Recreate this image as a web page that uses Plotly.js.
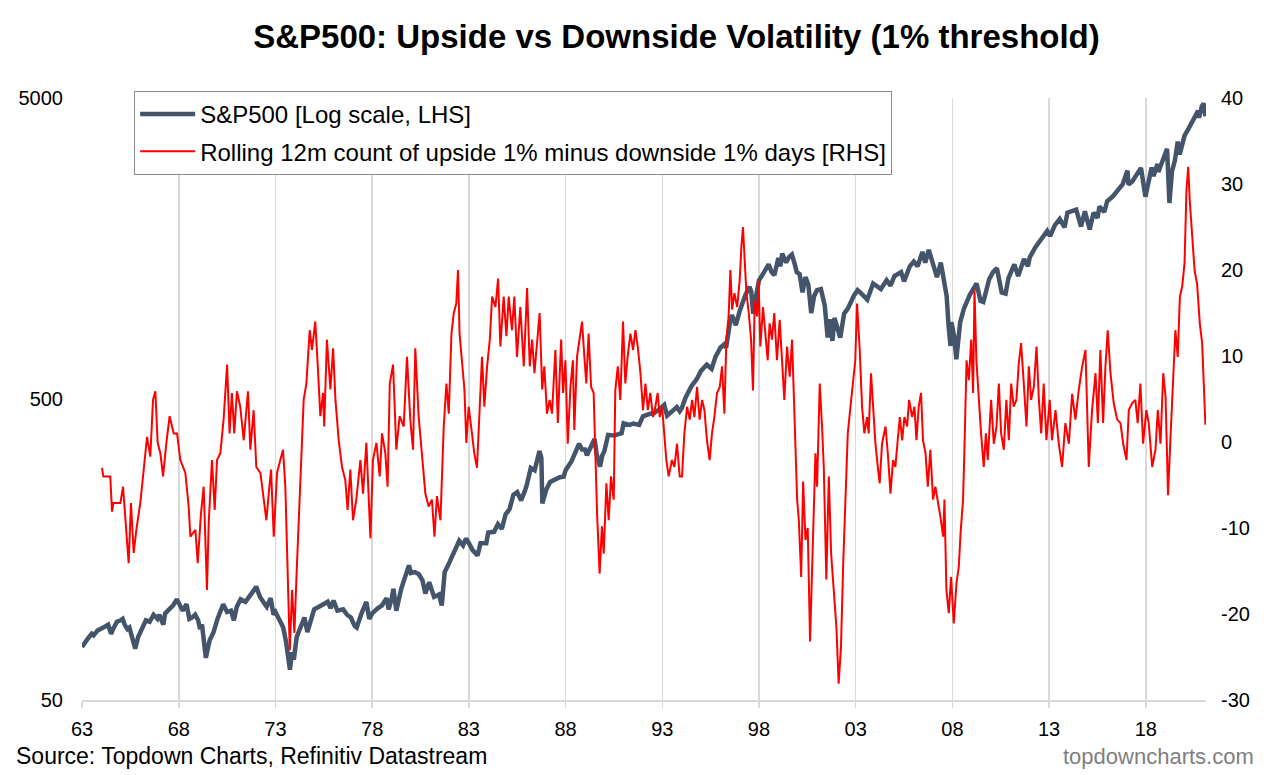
<!DOCTYPE html>
<html>
<head>
<meta charset="utf-8">
<script src="https://cdn.plot.ly/plotly-3.0.1.min.js"></script>
<style>
  html, body { margin: 0; padding: 0; background: #ffffff; }
  #chart { width: 1280px; height: 775px; }
</style>
</head>
<body>
<div id="chart"></div>
<script>
// ---------------- DATA ----------------
// Time is given as decimal years; tick labels mark year-end (31 Dec).
const chartTitle = "S&P500: Upside vs Downside Volatility (1% threshold)";
const seriesNames = ["S&P500 [Log scale, LHS]", "Rolling 12m count of upside 1% minus downside 1% days [RHS]"];
const xTickLabels = ["63", "68", "73", "78", "83", "88", "93", "98", "03", "08", "13", "18"];
const leftTickValues = [50, 500, 5000];
const rightTickValues = [-30, -20, -10, 0, 10, 20, 30, 40];
const sourceText = "Source: Topdown Charts, Refinitiv Datastream";
const brandText = "topdowncharts.com";

// S&P500 index level (left axis, log scale)
const spxYear = [
  1964.0, 1964.1, 1964.3, 1964.5, 1964.6, 1964.8, 1965.0, 1965.1, 1965.35, 1965.45, 1965.5, 1965.6, 1965.8,
  1966.0, 1966.1, 1966.2, 1966.35, 1966.45, 1966.6, 1966.75, 1966.9, 1967.1, 1967.3, 1967.5, 1967.7, 1967.9,
  1968.0, 1968.2, 1968.3, 1968.5, 1968.7, 1968.9, 1969.1, 1969.2, 1969.4, 1969.55, 1969.7, 1969.85,
  1970.0, 1970.1, 1970.2, 1970.4, 1970.5, 1970.6, 1970.8, 1971.0, 1971.3, 1971.5, 1971.7, 1971.85,
  1972.0, 1972.2, 1972.45, 1972.7, 1972.85, 1973.0, 1973.2, 1973.45, 1973.55, 1973.75, 1973.9,
  1974.0, 1974.2, 1974.4, 1974.55, 1974.75, 1974.85, 1974.95, 1975.1, 1975.5, 1975.65, 1975.8,
  1976.0, 1976.25, 1976.5, 1976.7, 1976.85, 1977.0, 1977.2, 1977.5, 1977.7, 1977.9,
  1978.1, 1978.2, 1978.45, 1978.7, 1978.85, 1979.0, 1979.3, 1979.5, 1979.75, 1979.85,
  1980.0, 1980.1, 1980.25, 1980.5, 1980.7, 1980.9, 1981.0, 1981.2, 1981.4, 1981.6, 1981.75, 1981.95,
  1982.2, 1982.45, 1982.6, 1982.75, 1982.9, 1983.1, 1983.3, 1983.5, 1983.7, 1983.85,
  1984.0, 1984.2, 1984.45, 1984.6, 1984.9, 1985.0, 1985.3, 1985.5, 1985.7, 1985.9,
  1986.1, 1986.3, 1986.5, 1986.6, 1986.7, 1986.9, 1987.0, 1987.2, 1987.4, 1987.65, 1987.75, 1987.8, 1987.9,
  1988.0, 1988.2, 1988.5, 1988.7, 1988.9, 1989.0, 1989.3, 1989.5, 1989.7, 1989.85,
  1990.0, 1990.1, 1990.3, 1990.5, 1990.6, 1990.78, 1990.9, 1991.0, 1991.2, 1991.5, 1991.9,
  1992.0, 1992.3, 1992.5, 1992.8, 1993.0, 1993.3, 1993.6, 1993.9, 1994.1, 1994.25, 1994.5, 1994.75, 1994.9,
  1995.0, 1995.2, 1995.5, 1995.8, 1996.0, 1996.3, 1996.55, 1996.75, 1997.0, 1997.2, 1997.3, 1997.5, 1997.6, 1997.8,
  1998.0, 1998.3, 1998.5, 1998.6, 1998.7, 1998.85, 1999.0, 1999.2, 1999.5, 1999.65, 1999.8,
  2000.0, 2000.1, 2000.2, 2000.4, 2000.55, 2000.7, 2000.85, 2000.95, 2001.1, 2001.25, 2001.4, 2001.55, 2001.7, 2001.85,
  2002.0, 2002.2, 2002.4, 2002.55, 2002.65, 2002.8, 2002.9, 2003.0, 2003.2, 2003.4, 2003.6, 2003.9,
  2004.1, 2004.3, 2004.6, 2004.9, 2005.1, 2005.3, 2005.6, 2005.8, 2006.0, 2006.35, 2006.5, 2006.8,
  2007.0, 2007.15, 2007.2, 2007.45, 2007.6, 2007.78, 2007.9, 2008.0, 2008.2, 2008.4, 2008.55, 2008.7, 2008.8, 2008.9, 2008.95,
  2009.1, 2009.2, 2009.4, 2009.6, 2009.9, 2010.25, 2010.45, 2010.6, 2010.9, 2011.1, 2011.3, 2011.55, 2011.75, 2011.9,
  2012.2, 2012.4, 2012.7, 2012.9, 2013.0, 2013.3, 2013.6, 2013.9, 2014.05, 2014.3, 2014.55, 2014.8, 2014.95,
  2015.2, 2015.4, 2015.65, 2015.85, 2016.1, 2016.3, 2016.5, 2016.6, 2016.85, 2017.0, 2017.3, 2017.5, 2017.8,
  2018.05, 2018.1, 2018.3, 2018.6, 2018.75, 2018.98, 2019.3, 2019.4, 2019.6, 2019.65, 2019.9,
  2020.1, 2020.22, 2020.35, 2020.5, 2020.65, 2020.75, 2020.9, 2021.0, 2021.2, 2021.4, 2021.6, 2021.7, 2021.75, 2021.9,
  2022.0, 2022.05, 2022.08
];
const spxValue = [
  75, 77, 80, 83, 82, 85, 86, 87, 89, 84, 83, 86, 91,
  92, 93, 89, 86, 87, 80, 74, 81, 86, 92, 91, 96, 93,
  96, 89, 97, 100, 103, 108, 101, 99, 104, 93, 94, 96,
  92, 86, 89, 69, 74, 79, 84, 93, 104, 98, 99, 92,
  102, 108, 106, 111, 115, 119, 110, 104, 102, 109, 96,
  98, 92, 87, 78, 63, 72, 68, 81, 94, 84, 90,
  100, 102, 104, 106, 101, 107, 99, 100, 96, 94,
  88, 87, 97, 106, 93, 97, 101, 103, 109, 100,
  108, 117, 99, 117, 128, 140, 132, 133, 131, 125, 113, 123,
  110, 112, 103, 133, 139, 148, 160, 169, 163, 172,
  166, 157, 151, 166, 166, 180, 181, 192, 185, 207,
  215, 240, 245, 236, 230, 248, 260, 295, 290, 336, 318, 225, 240,
  250, 265, 271, 275, 276, 290, 310, 335, 355, 340,
  340, 325, 345, 368, 330, 298, 325, 335, 380, 378, 385,
  415, 410, 414, 410, 438, 445, 450, 465, 478, 440, 455, 470, 455,
  465, 505, 550, 585, 620, 650, 630, 690, 740, 760, 740, 900, 950, 880,
  980, 1110, 1180, 1140, 960, 1100, 1240, 1300, 1400, 1320, 1290,
  1470, 1380, 1520, 1420, 1480, 1510, 1400, 1320, 1300, 1130, 1270, 1200, 965, 1100,
  1150, 1160, 1020, 800, 920, 780, 930, 880, 800, 960, 1000, 1100,
  1150, 1120, 1070, 1210, 1190, 1160, 1240, 1190, 1280, 1320, 1230, 1380,
  1430, 1390, 1380, 1540, 1420, 1565, 1470, 1410, 1270, 1420, 1240, 1100, 880, 750, 900,
  800, 677, 900, 1000, 1110, 1210, 1060, 1050, 1250, 1320, 1360, 1130, 1120, 1260,
  1400, 1280, 1460, 1380, 1480, 1600, 1700, 1810, 1740, 1890, 1980, 1860, 2080,
  2100, 2130, 1870, 2100, 1830, 2080, 2000, 2180, 2090, 2270, 2360, 2440, 2580,
  2870, 2580, 2640, 2840, 2930, 2350, 2940, 2750, 3020, 2840, 3140,
  3390, 2240, 2850, 3100, 3580, 3250, 3630, 3750, 3950, 4200, 4450, 4530, 4300, 4700,
  4790, 4500, 4350
];

// Rolling 12m count of upside 1% minus downside 1% days (right axis)
const volYear = [
  1965.03, 1965.1, 1965.46, 1965.55, 1965.62, 1965.98, 1966.12, 1966.24, 1966.41, 1966.53, 1966.67, 1966.81,
  1967.01, 1967.19, 1967.36, 1967.53, 1967.67, 1967.79, 1967.91, 1968.05, 1968.19, 1968.36, 1968.53, 1968.74, 1968.91,
  1969.08, 1969.34, 1969.51, 1969.6, 1969.86, 1969.98, 1970.15, 1970.29, 1970.46, 1970.55, 1970.72, 1970.86, 1970.98,
  1971.15, 1971.32, 1971.5, 1971.63, 1971.75, 1971.87, 1972.01, 1972.18, 1972.36, 1972.58, 1972.7, 1972.87,
  1973.01, 1973.22, 1973.39, 1973.53, 1973.65, 1973.77, 1973.91, 1974.08, 1974.25, 1974.39, 1974.51, 1974.63,
  1974.74, 1974.86, 1974.98, 1975.08, 1975.2, 1975.32, 1975.46, 1975.6, 1975.77, 1975.89, 1976.06, 1976.19,
  1976.32, 1976.46, 1976.52, 1976.66, 1976.84, 1976.98, 1977.1, 1977.27, 1977.44, 1977.61, 1977.73, 1977.87,
  1978.01, 1978.18, 1978.39, 1978.53, 1978.7, 1978.91, 1979.04, 1979.22, 1979.39, 1979.51, 1979.68, 1979.8, 1979.91,
  1980.08, 1980.25, 1980.42, 1980.63, 1980.8, 1980.97, 1981.11, 1981.23, 1981.4, 1981.58, 1981.75, 1981.92,
  1982.09, 1982.22, 1982.35, 1982.53, 1982.7, 1982.84, 1982.96, 1983.1, 1983.22, 1983.35, 1983.44, 1983.52,
  1983.65, 1983.77, 1983.87, 1983.99, 1984.16, 1984.28, 1984.42, 1984.56, 1984.68, 1984.8, 1984.94,
  1985.08, 1985.2, 1985.37, 1985.51, 1985.63, 1985.8, 1985.94, 1986.06, 1986.23, 1986.35, 1986.49, 1986.66, 1986.84,
  1987.01, 1987.15, 1987.27, 1987.39, 1987.66, 1987.79, 1987.9, 1988.04, 1988.18, 1988.3, 1988.47, 1988.6, 1988.77,
  1988.87, 1988.99, 1989.11, 1989.25, 1989.38, 1989.45, 1989.59, 1989.73, 1989.85, 1989.97,
  1990.07, 1990.19, 1990.32, 1990.45, 1990.54, 1990.63, 1990.76, 1990.88, 1990.97,
  1991.11, 1991.23, 1991.35, 1991.49, 1991.57, 1991.7, 1991.83, 1991.97,
  1992.09, 1992.21, 1992.35, 1992.49, 1992.61, 1992.73, 1992.87,
  1993.0, 1993.13, 1993.25, 1993.38, 1993.52, 1993.64, 1993.76, 1993.87, 1993.99,
  1994.11, 1994.21, 1994.33, 1994.5, 1994.63, 1994.76, 1994.9,
  1995.02, 1995.14, 1995.28, 1995.42, 1995.54, 1995.66, 1995.8, 1995.93,
  1996.06, 1996.18, 1996.31, 1996.45, 1996.57, 1996.69, 1996.83, 1996.97,
  1997.09, 1997.21, 1997.31, 1997.43, 1997.52, 1997.61, 1997.73, 1997.87,
  1998.0, 1998.09, 1998.17, 1998.26, 1998.35, 1998.47, 1998.59, 1998.69, 1998.78, 1998.9, 1998.98,
  1999.07, 1999.21, 1999.33, 1999.45, 1999.55, 1999.67, 1999.79, 1999.93,
  2000.07, 2000.19, 2000.31, 2000.45, 2000.59, 2000.71, 2000.8, 2000.88, 2000.97,
  2001.06, 2001.18, 2001.28, 2001.4, 2001.52, 2001.64, 2001.8, 2001.92,
  2002.0, 2002.14, 2002.26, 2002.35, 2002.48, 2002.61, 2002.73, 2002.86,
  2003.0, 2003.12, 2003.24, 2003.35, 2003.47, 2003.59, 2003.73, 2003.86, 2003.98,
  2004.07, 2004.21, 2004.33, 2004.45, 2004.59, 2004.67, 2004.79, 2004.9,
  2005.02, 2005.14, 2005.24, 2005.36, 2005.54, 2005.66, 2005.8, 2005.93,
  2006.05, 2006.17, 2006.28, 2006.4, 2006.52, 2006.66, 2006.76, 2006.92,
  2007.04, 2007.14, 2007.26, 2007.38, 2007.48, 2007.61, 2007.73, 2007.86,
  2008.0, 2008.12, 2008.24, 2008.38, 2008.52, 2008.59, 2008.69, 2008.81, 2008.93,
  2009.07, 2009.21, 2009.33, 2009.42, 2009.55, 2009.62, 2009.73, 2009.85, 2009.97,
  2010.07, 2010.14, 2010.24, 2010.36, 2010.48, 2010.62, 2010.73, 2010.83,
  2011.0, 2011.14, 2011.28, 2011.4, 2011.52, 2011.66, 2011.79, 2011.92,
  2012.04, 2012.17, 2012.31, 2012.43, 2012.55, 2012.69, 2012.83, 2012.95,
  2013.07, 2013.21, 2013.35, 2013.47, 2013.59, 2013.72, 2013.86,
  2014.03, 2014.15, 2014.33, 2014.5, 2014.67, 2014.84,
  2015.02, 2015.19, 2015.36, 2015.53, 2015.71, 2015.88,
  2016.05, 2016.22, 2016.4, 2016.52, 2016.65, 2016.79, 2016.91,
  2017.03, 2017.17, 2017.34, 2017.52, 2017.69, 2017.83,
  2018.0, 2018.12, 2018.29, 2018.46, 2018.58, 2018.72, 2018.86,
  2019.03, 2019.15, 2019.33, 2019.5, 2019.62, 2019.76, 2019.9,
  2020.02, 2020.1, 2020.15, 2020.27, 2020.41, 2020.53, 2020.65, 2020.76, 2020.88,
  2021.0, 2021.1, 2021.19, 2021.27, 2021.4, 2021.52, 2021.65, 2021.79, 2021.91,
  2022.0, 2022.05, 2022.08
];
const volValue = [
  -3.0, -4.0, -4.0, -8.1, -7.1, -7.1, -5.2, -9.1, -14.1, -7.1, -12.9, -10.2,
  -7.1, -3.2, 0.6, -1.7, 4.9, 5.9, -0.1, -1.3, -4.0, -0.1, 3.0, 1.0, 1.0,
  -2.1, -3.6, -7.5, -11.0, -10.2, -14.1, -8.3, -5.2, -17.2, -9.4, -2.1, -7.9, -2.1,
  -1.3, 2.6, 9.0, 1.0, 5.7, 1.0, 5.9, 4.1, 0.2, 5.9, -0.9, 3.7,
  -2.9, -3.6, -6.7, -9.1, -6.0, -3.2, -11.0, -3.6, -2.1, -0.9, -5.2, -15.3,
  -24.2, -17.2, -22.2, -16.0, -9.1, -2.1, 4.9, 6.8, 13.0, 10.7, 14.0, 8.8,
  3.0, 5.7, 1.8, 11.9, 6.1, 10.9, 4.9, 0.2, -2.9, -4.4, -7.9, -3.2,
  -9.1, -6.7, -2.1, -6.0, -0.1, -11.2, -2.1, -0.1, -4.0, 1.0, -1.3, -5.2, 6.8,
  9.0, -0.9, 3.0, 1.8, 9.9, 2.6, -0.9, 10.9, 3.0, -2.1, -6.0, -7.5,
  -6.7, -11.0, -6.3, -9.1, 1.8, 6.8, 3.3, 12.6, 15.0, 16.1, 20.0, 12.6,
  8.8, 6.1, -0.1, 4.1, 1.0, -1.3, -3.0, 4.9, 9.9, 4.1, 8.8,
  11.9, 16.9, 15.7, 19.0, 11.1, 16.9, 12.3, 16.9, 13.0, 16.9, 9.9, 15.7, 8.8,
  17.9, 8.8, 11.9, 8.0, 15.0, 6.1, 8.8, 3.3, 4.9, 3.3, 10.7, 2.2, 11.9,
  5.7, 9.5, -0.2, 6.4, 9.5, 1.4, 9.9, 11.9, 14.0, 9.9,
  6.8, 12.6, 6.4, 5.7, -2.9, -8.3, -15.3, -9.8, -13.0,
  -4.8, -9.1, -4.0, -6.7, 6.0, 8.8, 4.9, 14.0,
  6.8, 9.9, 12.6, 10.7, 13.0, 11.1, 8.0,
  3.7, 6.8, 3.7, 5.7, 2.9, 4.1, 5.7, 2.9, 4.1,
  1.0, -2.1, -4.0, -2.1, -2.9, -0.2, -4.0,
  -4.0, 1.0, 4.1, 2.6, 4.9, 2.9, 6.4, 2.6,
  4.9, 3.7, 0.2, -2.1, 1.0, 2.9, 5.7, 6.4,
  8.8, 3.3, 11.9, 14.6, 20.0, 15.4, 17.3, 15.7,
  18.8, 22.7, 25.0, 21.2, 17.3, 15.0, 11.9, 6.0, 16.5, 14.6, 18.8,
  11.1, 15.7, 12.6, 9.5, 13.8, 11.9, 15.0, 9.5,
  14.2, 9.9, 4.9, 11.1, 7.6, 11.9, 4.9, -0.9, -6.7,
  -9.1, -15.7, -4.6, -11.4, -10.0, -23.2, -10.6, -1.3,
  -5.2, 6.8, 1.8, -2.9, -16.0, -4.0, -13.0, -17.2,
  -21.5, -28.1, -23.8, -14.5, -6.7, 1.0, 4.1, 6.8, 9.5,
  16.1, 10.7, 4.1, 1.0, 2.9, 1.0, 8.0, 4.1,
  -0.2, -2.9, -4.8, -0.2, 1.8, -1.3, -6.0, -2.1,
  -2.9, 0.2, 2.9, 0.2, 2.9, 1.8, 4.9, 2.9,
  4.1, 0.2, 4.1, 5.7, 0.2, -1.3, -5.2, -0.9,
  -6.7, -5.2, -6.7, -8.7, -11.0, -6.7, -17.2, -19.9, -15.7,
  -21.1, -16.4, -14.5, -10.6, -6.7, -0.9, 9.5, 7.2, 11.9,
  5.7, 17.7, 9.5, 4.9, 1.0, -2.9, 1.0, -2.1,
  4.9, -0.2, 1.8, 6.8, 1.0, -0.9, 4.9, 0.2,
  6.8, 4.1, 4.9, 9.1, 11.5, 6.8, 1.8, 8.8,
  4.9, 6.4, 11.1, 4.9, 1.0, 6.8, 0.2,
  4.9, 0.2, 3.7, -0.2, -2.9, 2.2,
  -0.2, 5.6, 2.6, 6.0, 8.8, 10.7,
  -2.9, 3.7, 8.0, 2.2, 10.7, 2.2, 8.8,
  13.0, 8.0, 4.5, 2.6, 2.2, -0.2,
  -2.1, 3.7, 4.5, 4.9, 2.2, 6.8, -0.2,
  3.7, 2.2, -2.9, -0.9, 3.7, -0.2, 8.0,
  5.3, -1.7, -6.2, 0.2, 8.0, 13.0, 9.9, 16.9, 18.1,
  20.8, 29.3, 32.0, 28.1, 23.1, 20.0, 18.4, 13.8, 11.5,
  6.0, 4.5, 2.0
];

// ---------------- BUILD ----------------
function yearToDate(y) {
  const yr = Math.floor(y);
  const start = Date.UTC(yr, 0, 1), end = Date.UTC(yr + 1, 0, 1);
  return new Date(start + (y - yr) * (end - start)).toISOString().slice(0, 10);
}
const tickDates = xTickLabels.map(l => {
  const n = parseInt(l, 10);
  return (n >= 50 ? 1900 + n : 2000 + n) + "-12-31";
});

const FONT = "Liberation Sans, Arial, Helvetica, sans-serif";

const traces = [
  {
    type: "scatter", mode: "lines", name: seriesNames[0],
    x: spxYear.map(yearToDate), y: spxValue,
    yaxis: "y", legendgroup: "a",
    line: { color: "#44546A", width: 4.5 },
    hoverinfo: "skip"
  },
  {
    type: "scatter", mode: "lines", name: seriesNames[1],
    x: volYear.map(yearToDate), y: volValue,
    yaxis: "y2", legendgroup: "b",
    line: { color: "#FF0000", width: 2 },
    hoverinfo: "skip"
  }
];

const layout = {
  width: 1280, height: 775,
  paper_bgcolor: "#ffffff", plot_bgcolor: "#ffffff",
  margin: { l: 82, r: 74, t: 98, b: 75 },
  font: { family: FONT, color: "#000000", size: 20 },
  title: {
    text: chartTitle,
    font: { family: FONT, size: 33, weight: 700, color: "#000000" },
    xref: "container", x: 0.5285, xanchor: "center",
    yref: "container", y: 0.953, yanchor: "middle"
  },
  showlegend: true,
  legend: {
    x: 0.0464, y: 1.0116, xanchor: "left", yanchor: "top",
    bgcolor: "#ffffff", bordercolor: "#8c8c8c", borderwidth: 1,
    font: { family: FONT, size: 24, color: "#000000" },
    itemwidth: 55, tracegroupgap: 3, traceorder: "grouped"
  },
  xaxis: {
    type: "date",
    range: ["1963-12-31", yearToDate(2022.11)],
    tickvals: tickDates, ticktext: xTickLabels,
    showgrid: true, gridcolor: "#d9d9d9", gridwidth: 1.5,
    showline: true, linecolor: "#d9d9d9", linewidth: 2,
    ticks: "outside", ticklen: 6, tickcolor: "#d9d9d9", tickwidth: 1.5,
    ticklabelstandoff: 4,
    tickfont: { family: FONT, size: 20, color: "#000000" },
    zeroline: false, fixedrange: true
  },
  yaxis: {
    type: "log",
    range: [Math.log10(50), Math.log10(5000)],
    tickvals: leftTickValues, ticktext: leftTickValues.map(String),
    showgrid: false, showline: false, zeroline: false, ticks: "",
    ticklabelstandoff: 18,
    tickfont: { family: FONT, size: 20, color: "#000000" },
    fixedrange: true
  },
  yaxis2: {
    overlaying: "y", side: "right",
    range: [-30, 40],
    tickvals: rightTickValues, ticktext: rightTickValues.map(String),
    showgrid: false, showline: false, zeroline: false, ticks: "",
    ticklabelstandoff: 14,
    tickfont: { family: FONT, size: 20, color: "#000000" },
    fixedrange: true
  },
  annotations: [
    {
      text: sourceText, xref: "paper", yref: "paper",
      x: (14 - 82) / 1124, y: (700 - 756) / 602, xanchor: "left", yanchor: "middle",
      showarrow: false, font: { family: FONT, size: 23, color: "#000000" }
    },
    {
      text: brandText, xref: "paper", yref: "paper",
      x: (1256 - 82) / 1124, y: (700 - 756) / 602, xanchor: "right", yanchor: "middle",
      showarrow: false, font: { family: FONT, size: 22, color: "#7f7f7f" }
    }
  ]
};

Plotly.newPlot("chart", traces, layout, { displayModeBar: false, staticPlot: true });
</script>
</body>
</html>
